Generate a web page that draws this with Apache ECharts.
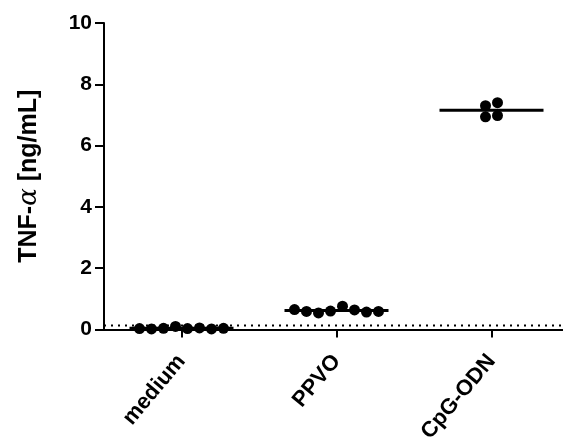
<!DOCTYPE html>
<html>
<head>
<meta charset="utf-8">
<script src="https://cdn.jsdelivr.net/npm/echarts@6/dist/echarts.min.js"></script>
<style>
  html, body { margin: 0; padding: 0; background: #fff; }
  #chart { width: 563px; height: 439px; }
</style>
</head>
<body>
<div id="chart"></div>
<script>
// Groups and their TNF-alpha readings (ng/mL), listed left to right within each group
const categories = ['medium', 'PPVO', 'CpG-ODN'];
const mediumValues = [0.03, 0.02, 0.04, 0.10, 0.03, 0.05, 0.02, 0.04];
const ppvoValues = [0.65, 0.59, 0.54, 0.60, 0.76, 0.64, 0.57, 0.59];
const cpgValues = [7.30, 7.40, 6.94, 6.98];
const detectionLimit = 0.13;
const yTicks = [0, 2, 4, 6, 8, 10];

const groups = [mediumValues, ppvoValues, cpgValues];

const FONT = 'Liberation Sans, Arial, sans-serif';
const GRID_LEFT = 104, GRID_TOP = 23, GRID_W = 465, GRID_H = 306.5;
const DOT = 11;                       // symbol diameter in px
const SLOT = 12;                      // horizontal step between touching dots, px
const pxPerCat = GRID_W / categories.length;
const pxPerUnit = GRID_H / (yTicks[yTicks.length - 1] - yTicks[0]);

// Scatter-dot spread: consecutive points whose values would overlap share a row
// and are laid out side by side, centred on the group's column.
function spread(values, center) {
  const rows = [];
  values.forEach(v => {
    const row = rows[rows.length - 1];
    if (row && Math.abs(v - row[row.length - 1]) * pxPerUnit < SLOT) row.push(v);
    else rows.push([v]);
  });
  const pts = [];
  rows.forEach(row => {
    row.forEach((v, i) => {
      const off = (i - (row.length - 1) / 2) * SLOT / pxPerCat;
      pts.push([center + off, v]);
    });
  });
  return pts;
}

const mean = arr => arr.reduce((s, v) => s + v, 0) / arr.length;
const HALF_BAR = 52 / pxPerCat;

const series = [];
// dotted detection-limit line
series.push({
  type: 'line', xAxisIndex: 1, yAxisIndex: 0,
  data: [[-0.5, detectionLimit], [2.5, detectionLimit]],
  symbol: 'none', silent: true, z: 1,
  lineStyle: { color: '#000', width: 2, type: [2, 5] }
});
groups.forEach((vals, i) => {
  const m = mean(vals);
  series.push({
    type: 'line', xAxisIndex: 1, yAxisIndex: 0,
    data: [[i - HALF_BAR, m], [i + HALF_BAR, m]],
    symbol: 'none', silent: true, z: 3,
    lineStyle: { color: '#000', width: 3 }
  });
  series.push({
    type: 'scatter', xAxisIndex: 1, yAxisIndex: 0,
    data: spread(vals, i),
    symbol: 'circle', symbolSize: DOT, z: 4,
    itemStyle: { color: '#000', opacity: 1 }
  });
});

const chart = echarts.init(document.getElementById('chart'), null, { renderer: 'canvas' });
chart.setOption({
  animation: false,
  backgroundColor: '#fff',
  grid: { left: GRID_LEFT, top: GRID_TOP, width: GRID_W, height: GRID_H,
          containLabel: false, outerBoundsMode: 'none' },
  xAxis: [
    {
      type: 'category', data: categories, boundaryGap: true,
      axisLine: { show: true, onZero: false, lineStyle: { color: '#000', width: 2 } },
      axisTick: { show: true, alignWithLabel: true, length: 8, lineStyle: { color: '#000', width: 2 } },
      axisLabel: { rotate: 50, margin: 28, color: '#000', fontSize: 22, fontWeight: 'bold', fontFamily: FONT },
      splitLine: { show: false }
    },
    { type: 'value', min: -0.5, max: 2.5, show: false, splitLine: { show: false } }
  ],
  yAxis: {
    type: 'value', min: yTicks[0], max: yTicks[yTicks.length - 1], interval: 2,
    name: '{t|TNF-}{a|α}{t| [ng/mL]}',
    nameLocation: 'middle', nameGap: 62, nameRotate: 90,
    nameTextStyle: {
      rich: {
        t: { fontSize: 25, fontWeight: 'bold', fontFamily: FONT, color: '#000' },
        a: { fontSize: 26, fontStyle: 'italic', fontFamily: 'DejaVu Serif, serif', color: '#000' }
      }
    },
    axisLine: { show: true, onZero: false, lineStyle: { color: '#000', width: 2 } },
    axisTick: { show: true, length: 9, lineStyle: { color: '#000', width: 2 } },
    axisLabel: { margin: 12, color: '#000', fontSize: 21, fontWeight: 'bold', fontFamily: FONT },
    splitLine: { show: false }
  },
  series: series
});
</script>
</body>
</html>
